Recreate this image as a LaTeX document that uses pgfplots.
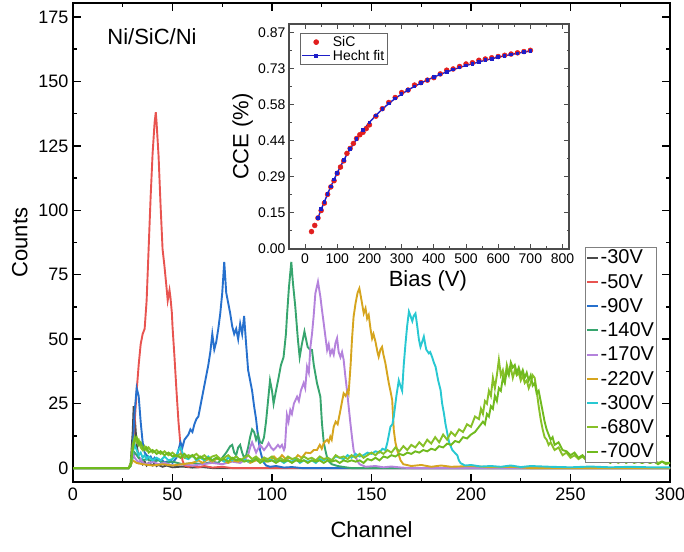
\documentclass[border=0pt]{standalone}
\usepackage{pgfplots}
\pgfplotsset{compat=1.18}
\usepackage{fontspec}
\setmainfont{Liberation Sans}
\definecolor{c30}{RGB}{74,74,74}
\definecolor{c50}{RGB}{232,84,80}
\definecolor{c90}{RGB}{38,112,205}
\definecolor{c140}{RGB}{55,165,110}
\definecolor{c170}{RGB}{180,130,220}
\definecolor{c220}{RGB}{214,165,30}
\definecolor{c300}{RGB}{40,200,210}
\definecolor{c680}{RGB}{135,192,40}
\definecolor{c700}{RGB}{112,186,30}
\definecolor{inred}{RGB}{225,30,30}
\definecolor{inblue}{RGB}{30,30,200}
\pgfplotsset{sp/.style={line width=1.9pt, mark=none},
  dotlegend/.style={legend image code/.code={\path[##1] plot coordinates {(14pt,0pt)};}},
  fitlegend/.style={legend image code/.code={\draw[mark repeat=2, mark phase=2, ##1] plot coordinates {(0pt,0pt) (14pt,0pt) (28pt,0pt)};}}}
\begin{document}
\begin{tikzpicture}
\path[use as bounding box] (-73pt,-69pt) rectangle (611pt,482pt);
\begin{axis}[
  name=main, at={(0pt,0pt)}, anchor=south west,
  width=597pt, height=479pt, scale only axis,
  xmin=0, xmax=300, ymin=-5.4, ymax=180.4,
  xtick={0,50,...,300}, ytick={0,25,...,175},
  minor x tick num=1, minor y tick num=1,
  tick align=inside, major tick length=8pt, minor tick length=4pt,
  axis line style={line width=1.6pt}, every tick/.style={line width=1.4pt, black},
  /pgf/number format/assume math mode=true,
  tick label style={font=\fontsize{18}{20}\selectfont},
  xticklabel style={yshift=-2pt}, yticklabel style={xshift=-1pt},
  xlabel={Channel}, ylabel={Counts},
  label style={font=\fontsize{22}{24}\selectfont},
  xlabel style={at={(axis description cs:0.5,-0.100)}, anchor=center},
  ylabel style={at={(axis description cs:-0.089,0.5)}, anchor=center},
  legend cell align=left,
  legend style={at={(0.978,0.4906)}, anchor=north east, draw=gray, line width=0.8pt,
    font=\fontsize{20}{22}\selectfont, inner sep=1pt, row sep=5.8pt,
    nodes={inner sep=1.5pt}},
  legend image code/.code={\draw[#1, line width=2pt] (0pt,0pt) -- (11pt,0pt);},
]
\addplot[c30, sp] table {
0 0
28 0
29 2
30 14
30.5 24
31 20
32 9
33 4
34 3
35 1.5
36 2.5
37 1
38 2
39 1.5
40 1
41 2
42 0.8
43 1.2
45 0.5
47 1
50 0.3
55 0.6
60 0.2
65 0.4
70 0
300 0
};
\addlegendentry{-30V}
\addplot[c50, sp] table {
0 0
28 0
29 1
30 5
31 18
32 30
33 40
34 48
35 52
36 54
37 65
38 85
39 105
40 122
41 134
41.6 138
42 134
43 121
44 102
45 85
46 78
47 70
47.6 65
48.5 69
49 66
49.7 60
50 55
51 43
52 30
53 18
54 9
55 3
56 1
58 0.5
60 1
63 0.3
66 0.8
70 0.2
75 0.5
80 0
300 0
};
\addlegendentry{-50V}
\addplot[c90, sp] table {
0 0
28 0
29 1
30 8
31 22
32 31
33 28
34 18
35 10
36 6
37 5
38 4
39 4.5
40 3
41 4
42 3
43 3.5
44 2.5
45 3
46 2
47 2.5
48 2
49 3
50 2
51 3
52 4
53 7
54 10
55 8
56 11
57 12
58 13
59 15
60 14
61 17
62 19
63 20
64 24
65 28
66 32
67 36
68 40
69 45
70 52
71 46
72 49
73 54
74 60
75 68
76 80
77 68
78 64
79 60
80 55
81 52
82 54
83 50
84 56
85 52
86 59
87 48
88 38
89 34
90 30
91 24
92 19
93 12
94 7
95 4
96 2
97 1
99 0.5
102 0.8
106 0.2
110 0.4
115 0
300 0
};
\addlegendentry{-90V}
\addplot[c140, sp] table {
0 0
28 0
29 1
30 4
31 6
32 5
33 4
35 3
37 3.5
40 2.5
43 3
46 2
50 2.5
55 1.5
60 2
65 1.5
70 2.5
73 2
75 4
77 6
79 8.5
80 9
81 6
82 5
83 8
84 9
85 6
86 4
87 5
88 8
89 12
90 15
91 14
92 11
93 13
94 10
95 9.7
96 12
97 18
98 26
99 34
100 30
100.8 25
102 30
103.3 35
104.5 40
105.8 43
107 52
107.5 58.7
108.5 70
109.7 80
110.5 72
111.7 62.6
113 50
113.9 43
115 48
116.3 53
117.9 47
119 46
120.1 45.8
121 40
122.6 33
124.3 27.7
125.1 17.4
126 10
126.8 7
128 3
130 1.5
133 0.8
137 0.3
140 0
300 0
};
\addlegendentry{-140V}
\addplot[c170, sp] table {
0 0
28 0
29 1
30 6
31 4
32 3
33 2
34 3.5
35 2
37 1.5
40 2.5
43 1.5
46 2
50 1
55 1.5
60 1
65 1.5
70 2
75 1.5
80 2.5
84 2
86 3
88 5
89 8
90 10
91 8
92 6
93 7.5
94 9
95 8
96 7
97.5 8.5
98.3 9.7
99.5 8
100.8 7
102 8
103 9
104 8
105 9
106 7
106.5 8
107.5 20.6
108.3 18
109.2 22.5
110 21
111 25
112.6 27.7
113.5 26
114.5 30
115.9 33
116.7 31
117.6 39.3
118.5 37
119.3 47
120.1 52
120.9 58.7
121.8 67.8
123.1 72.3
124.3 66.5
125 62
126 56.1
127 50
127.7 45.8
128.5 48
129.3 44
130.2 45.8
131 44
131.9 48.5
132.7 50.4
133.5 45
134.4 43
135.2 45
136 42
136.8 36
137.7 30
138.5 24
139.4 17.4
140.2 12
141 7
142.7 3
144 1.5
147 0.5
152 0.8
156 0.3
160 0.6
165 0.2
170 0
300 0
};
\addlegendentry{-170V}
\addplot[c220, sp] table {
0 0
28 0
29 1
30 3
32 2
35 1.5
40 1
45 1.5
50 1
55 1.5
60 2
63 3
65 2
68 3.5
70 2.5
73 4
75 3
78 2
80 3
83 2.5
86 3.5
89 2
92 3
95 3
96 4
97 2.5
99 3
101 4.5
103 3
105 5
107 3.5
109 4
111 3
113 5
115 4
117 6
119.3 5.8
121 7
122.6 7
124 9
125 7.5
126 9.7
127.7 11
128.5 10
129.3 12.2
130 11
131 16
132 18
133 17
134.4 22.5
135 25
136 29
137 28
138 30
138.5 29
139.5 40
140.2 50
141 58.7
142 64
143 68
143.9 69.7
145 65
146.1 60
147 62
147.8 58
148.6 59.4
149.5 54
150.3 50.3
151 52
152 49
153 45
153.6 43.2
154.5 46
155.3 47
156 44
157 40.6
158 36
158.7 32.9
159.5 30
160.4 26.4
161.2 14.7
162 10
162.9 7
164.6 3
166 1.5
170 0.8
175 1.2
180 0.5
185 1
190 0.5
200 0.8
210 0.3
220 0.5
230 0
300 0
};
\addlegendentry{-220V}
\addplot[c300, sp] table {
0 0
28 0
29 1
30 6
31 9
32 7
33 5
34 6
35 4
36 5
37 3.5
38 4.5
40 3
42 4
44 3
46 4.5
48 3
50 3.5
52 5
53 7
54 8
55 6
56 4
58 3.5
60 5
62 3
64 4
66 3
68 4.5
70 3
72 4
74 3.5
76 2.5
78 4
80 3
82 4.5
84 3
86 3.5
88 2.5
90 3
92 4
94 3
96 2.5
98 3.5
100 3
102 2.5
104 3
106 2
108 3
110 2.5
112 3.5
114 2
116 3
118 2.5
120 3
122 2
124 3.5
126 3
128 4
130 3
132 4.5
134 4
136 3.5
138 5
140 4
142 5.5
144 4.5
146 5
148 6
150 5.5
152 6.5
154 6
155.5 7.5
157 7
158 10
159.5 16
160.5 17
161.2 20
162.5 28
163.7 34
164.5 32
165.4 30
166.2 40
167.1 48.4
167.9 55
168.8 60.7
169.6 59
170.5 57
171.2 59
172.1 60
173 55
173.8 50
174.6 47
175.5 49
176.3 51
177 48
177.5 46
178.8 44.5
179.5 45
180.5 43
181.3 41
182.2 39.3
183.5 34
184.7 30.3
185.5 25
186.4 21.2
187.2 17
188.1 13.5
189 10
190.6 7
191.8 6
193.1 5
193.9 3
194.8 1.9
197 1
200 1.2
205 0.6
210 0.8
215 0.5
220 1
225 0.4
230 0.8
240 0.5
250 0.3
260 0.6
270 0.3
280 0.5
290 0.3
300 0.3
};
\addlegendentry{-300V}
\addplot[c680, sp] table {
0 0
28 0
29 2
30 9
31 12
32 10
33 11
34 8
35 7
36 8.5
37 7
38 8
40 6
42 7
44 5.5
46 6.5
48 5
50 6
52 4.5
54 5.5
56 4
58 5
60 4.5
62 5.5
64 4
66 5
68 3.5
70 4.5
72 5
74 3.5
76 4
78 5
80 3.5
82 4.5
84 3
86 4
88 5
90 3.5
92 4.5
94 3
96 4
98 3.5
100 4.5
102 3
104 4
106 3
108 4.5
110 3.5
112 4
114 3
116 4.5
118 3.5
120 4
122 3
124 4.5
126 3.5
128 4
130 3
132 5
134 4
136 4.5
138 3.5
140 5
142 4
144 5.5
146 4
148 5
150 6
152 5
154 6.5
156 5.5
158 7
160 6
162 8
164 6.5
166 8.5
168 7
170 9
172 8
174 10
176 8.5
178 11
180 9.5
182 12
184 10
186 13
188 11
190 14
192 12.5
194 15
196 14
198 17
200 16
202 20
204 19
205 23
206 21
207 26
208 25
209 30
210 28
211 35
212 31
213 36
214 42
215 36
216 38
217 34
218 40
219 37
220 39
221 35
222 38
223 36
224 37
225 34
226 36
227 33
228 34
229 31
230 33
231 36
232 35
233 30
234 24
235 19
236 15
237 12
238 11
239 9
240 10
242 7
244 8
246 5
248 6
250 4
252 5
254 3.5
256 4.5
258 3
260 4
262 3
264 3.5
266 2.5
268 3.5
270 2.5
272 3
274 2
276 3
278 2.5
280 4
282 2.5
284 3
286 2
288 2.5
290 2
292 3
294 2
296 2.5
298 1.5
300 2
};
\addlegendentry{-680V}
\addplot[c700, sp] table {
0 0
28 0
29 1
30 7
31 11
32 12
33 9
34 10
35 8
36 7
37 8
38 6
40 7
42 5.5
44 6.5
46 5
48 6
50 4.5
52 5
54 4
56 5.5
58 4
60 5
62 3.5
64 4.5
66 3.5
68 4
70 3
72 4
74 3
76 3.5
78 2.5
80 4
82 3
84 3.5
86 2.5
88 3
90 2.5
92 3.5
94 2
96 3
98 2.5
100 3
102 2
104 3
106 2.5
108 3
110 2
112 3
114 2.5
116 3
118 2
120 3
122 2.5
124 3
126 2
128 3
130 2.5
132 3
134 2
136 3
138 2.5
140 3
142 2.5
144 3
146 2
148 3.5
150 3
152 4
154 3
156 4.5
158 4
160 5
162 4.5
164 5.5
166 5
168 6
170 5.5
172 6.5
174 6
176 7
178 6.5
180 7.5
182 7
184 8.5
186 8
188 9.5
190 9
192 10.5
194 10
196 12
198 11.5
200 13
202 14
204 16
206 18
207 17
208 21
209 20
210 24
211 23
212 28
213 26
214 31
215 30
216 35
217 33
218 38
219 36
220 41
221 39
222 40
223 37
224 39
225 36
226 38
227 35
228 37
229 34
230 36
231 32
232 33
233 29
234 30
235 26
236 22
237 18
238 15
239 13
240 11
241 12
242 9
244 10
246 7
248 6.5
250 5
252 6
254 4
256 5
258 3.5
260 4
262 3
264 4
266 2.5
268 3
270 2
272 3
274 2.5
276 3.5
278 2
280 3
282 2
284 2.5
286 2
288 3
290 2
292 2.5
294 1.5
296 2.5
298 2
300 2
};
\addlegendentry{-700V}
\node[font=\fontsize{22}{24}\selectfont] at (axis description cs:0.1323,0.929) {Ni/SiC/Ni};
\end{axis}
\begin{axis}[
  at={(216pt,233pt)}, anchor=south west,
  width=280pt, height=225pt, scale only axis,
  axis background/.style={fill=white},
  xmin=-50, xmax=820, ymin=0, ymax=0.906,
  xtick={0,100,...,800},
  ytick={0,0.145,0.29,0.435,0.58,0.725,0.87},
  yticklabels={0.00,0.15,0.29,0.44,0.58,0.73,0.87},
  minor x tick num=1, minor y tick num=1,
  tick align=inside, major tick length=5pt, minor tick length=2.5pt,
  axis line style={line width=1.1pt, draw=black!70}, every tick/.style={line width=1pt, black!70},
  /pgf/number format/assume math mode=true,
  tick label style={font=\fontsize{14}{16}\selectfont},
  xticklabel style={yshift=-1pt},
  xlabel={Bias (V)}, ylabel={CCE (\%)},
  label style={font=\fontsize{22}{24}\selectfont},
  xlabel style={at={(axis description cs:0.496,-0.142)}, anchor=center},
  ylabel style={at={(axis description cs:-0.165,0.5)}, anchor=center},
  legend cell align=left,
  legend style={at={(0.04,0.96)}, anchor=north west, draw=black!60, line width=0.6pt,
    font=\fontsize{14}{16}\selectfont, inner sep=1pt, row sep=-2pt, nodes={inner sep=2pt}},
]
\addplot[only marks, mark=*, mark size=2.5pt, color=inred, draw=none, dotlegend] table {
20 0.07
30 0.095
40 0.125
50 0.155
60 0.185
70 0.22
80 0.25
90 0.275
100 0.305
110 0.33
120 0.355
130 0.385
140 0.405
150 0.425
160 0.445
170 0.46
180 0.47
190 0.485
200 0.50
220 0.535
240 0.565
260 0.59
280 0.61
300 0.63
320 0.64
340 0.66
360 0.67
380 0.68
400 0.69
420 0.705
440 0.72
460 0.725
480 0.735
500 0.745
520 0.75
540 0.76
560 0.765
580 0.77
600 0.775
620 0.78
640 0.785
660 0.79
680 0.795
700 0.80
};
\addlegendentry{SiC}
\addplot[color=inblue, line width=1.4pt, mark=square*, mark size=1.1pt, fitlegend] table {
40 0.125
50 0.16
60 0.19
70 0.222
80 0.252
90 0.28
100 0.307
120 0.358
140 0.403
160 0.443
180 0.478
200 0.51
220 0.538
240 0.563
260 0.586
280 0.606
300 0.624
320 0.64
340 0.655
360 0.668
380 0.681
400 0.692
420 0.703
440 0.713
460 0.722
480 0.731
500 0.739
520 0.746
540 0.753
560 0.76
580 0.766
600 0.772
620 0.778
640 0.783
660 0.788
680 0.793
700 0.797
};
\addlegendentry{Hecht fit}
\end{axis}
\end{tikzpicture}
\end{document}
